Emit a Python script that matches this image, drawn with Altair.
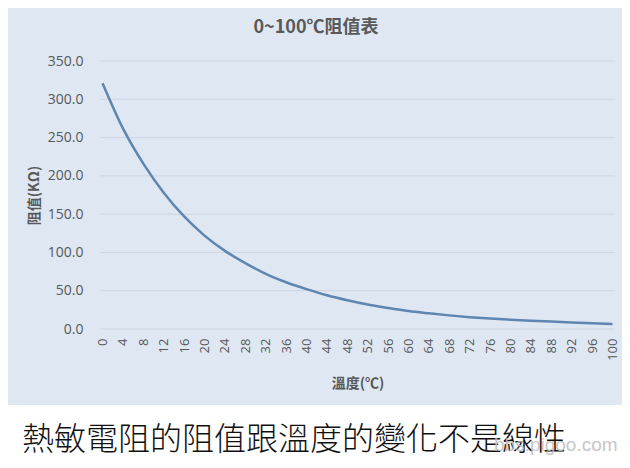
import altair as alt
import pandas as pd

# Data
temps = list(range(0, 101, 4))
resistance = [321, 262, 216, 178, 147, 122, 102, 86, 72, 61,
              52, 44, 37.5, 32, 27.5, 23.5, 20.5, 17.8, 15.5, 13.6,
              12.2, 10.9, 9.7, 8.6, 7.6, 6.6]
x_ticks = list(range(0, 101, 4))
y_ticks = [0, 50, 100, 150, 200, 250, 300, 350]

title_text = "0~100℃阻值表"
x_title = "溫度(℃)"
y_title = "阻值(KΩ)"
caption_text = "熱敏電阻的阻值跟溫度的變化不是線性"
watermark_text = "bbs.pigoo.com"

df = pd.DataFrame({"temp": temps, "r": resistance})
grid_df = pd.DataFrame({"g": y_ticks})
one = pd.DataFrame({"k": [0]})

CJK = "Noto Sans CJK TC"
GRAY = "#595959"

x_scale = alt.Scale(domain=[-0.5, 100.5], nice=False, zero=False)
y_scale = alt.Scale(domain=[0, 350], nice=False)

y_axis = alt.Axis(values=y_ticks, format=".1f", title=y_title,
                  grid=False, ticks=False, domain=False, zindex=1,
                  labelPadding=17, titlePadding=6,
                  labelFont="Open Sans", labelFontSize=14, labelColor=GRAY,
                  titleFont=CJK, titleFontSize=14, titleFontWeight="bold",
                  titleColor=GRAY)

panel = alt.Chart(one).mark_rect(color="#dee7f2").encode(
    x=alt.value(-96), x2=alt.value(526), y=alt.value(-56), y2=alt.value(344)
)

grid = alt.Chart(grid_df).mark_rule(color="#cdd6e2", strokeWidth=1).encode(
    y=alt.Y("g:Q", scale=y_scale, axis=y_axis, title=y_title),
    x=alt.value(0), x2=alt.value(515),
)

line = alt.Chart(df).mark_line(color="#5f86b0", strokeWidth=2.5, interpolate="monotone").encode(
    x=alt.X("temp:Q", scale=x_scale,
            axis=alt.Axis(values=x_ticks, labelAngle=270, title=x_title,
                          grid=False, ticks=False, domain=False, zindex=1,
                          labelPadding=9, titlePadding=16,
                          labelFont="Open Sans", labelFontSize=13, labelColor=GRAY,
                          titleFont=CJK, titleFontSize=14, titleFontWeight="bold",
                          titleColor=GRAY)),
    y=alt.Y("r:Q", scale=y_scale, axis=y_axis, title=y_title),
)

title = alt.Chart(one).mark_text(
    text=title_text, align="center", baseline="middle",
    font=CJK, fontSize=18, fontWeight="bold", color=GRAY
).encode(x=alt.value(216), y=alt.value(-33))

caption = alt.Chart(one).mark_text(
    text=caption_text, align="left", baseline="alphabetic",
    font=CJK, fontSize=32, color="#111111", fontWeight=300
).encode(x=alt.value(-78), y=alt.value(389))

watermark = alt.Chart(one).mark_text(
    text=watermark_text, align="left", baseline="alphabetic",
    font="Liberation Sans", fontSize=19, color="#bdbdbd", opacity=0.85
).encode(x=alt.value(394), y=alt.value(390))

chart = alt.layer(panel, grid, line, title, caption, watermark).resolve_scale(
    y="shared"
).properties(
    width=515, height=268,
    autosize=alt.AutoSizeParams(type="none"),
    padding={"left": 92, "top": 53, "right": 7, "bottom": 131},
    background="white",
).configure_view(stroke=None)

chart.save("out.html", embed_options={"renderer": "svg", "actions": False})
